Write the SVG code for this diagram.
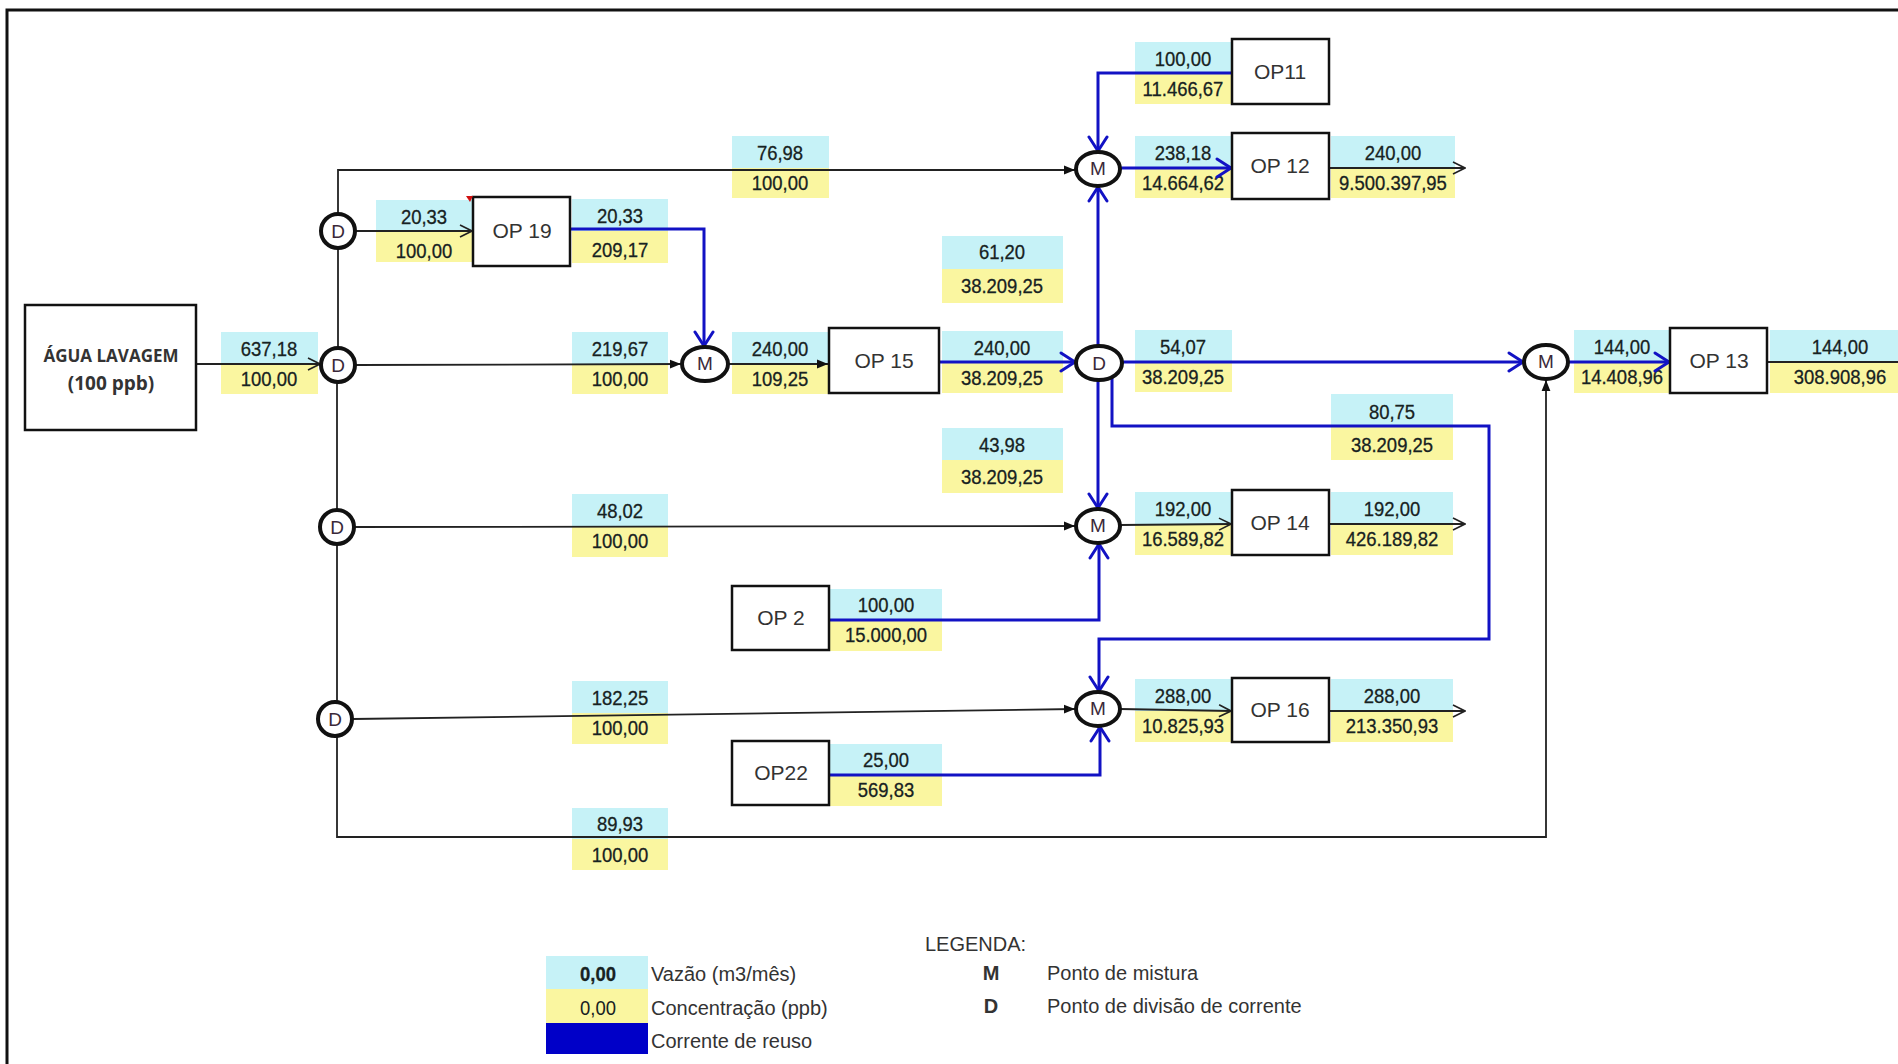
<svg xmlns="http://www.w3.org/2000/svg" width="1898" height="1064" viewBox="0 0 1898 1064">
<style>
.c{fill:#C6F2F7}
.y{fill:#FAF6A0}
.n{font-family:"Liberation Sans Narrow","Liberation Sans",sans-serif;font-size:21px;fill:#172222;stroke:#172222;stroke-width:0.3;text-anchor:middle;transform:scaleX(0.88);transform-box:fill-box;transform-origin:center}
.box{fill:#fff;stroke:#111;stroke-width:2.5}
.bt{font-family:"Liberation Sans Narrow","Liberation Sans",sans-serif;font-size:21px;fill:#333;text-anchor:middle}
.circ{fill:#fff;stroke:#111;stroke-width:4}
.ct{font-family:"Liberation Sans Narrow","Liberation Sans",sans-serif;font-size:19px;fill:#3a2838;text-anchor:middle}
.bl{fill:none;stroke:#222;stroke-width:1.8}
.blue{fill:none;stroke:#1212C4;stroke-width:3}
.lg{font-family:"Liberation Sans Narrow","Liberation Sans",sans-serif;font-size:20px;fill:#333}
</style>
<defs>
<marker id="af" viewBox="0 0 10 10" refX="10" refY="5" markerWidth="11" markerHeight="11" markerUnits="userSpaceOnUse" orient="auto"><path d="M0,1 L10,5 L0,9z" fill="#111"/></marker>
<marker id="ao" viewBox="0 0 14 14" refX="13" refY="7" markerWidth="14" markerHeight="14" markerUnits="userSpaceOnUse" orient="auto"><path d="M1,1 L13,7 L1,13" fill="none" stroke="#222" stroke-width="1.6"/></marker>
<marker id="ab" viewBox="0 0 18 22" refX="16" refY="11" markerWidth="18" markerHeight="22" markerUnits="userSpaceOnUse" orient="auto"><path d="M2,2 L16,11 L2,20" fill="none" stroke="#1212C4" stroke-width="3" stroke-linecap="round" stroke-linejoin="round"/></marker>
</defs>
<rect x="0" y="0" width="1898" height="1064" fill="#fff"/>
<rect x="7" y="10" width="1900" height="1070" fill="none" stroke="#111" stroke-width="3"/>

<g id="labels">
<g><rect class="c" x="221" y="332" width="97" height="32"/><rect class="y" x="221" y="364" width="97" height="30"/><text class="n" x="269" y="356">637,18</text><text class="n" x="269" y="386">100,00</text></g>
<g><rect class="c" x="732" y="136" width="97" height="32"/><rect class="y" x="732" y="168" width="97" height="30"/><text class="n" x="780" y="160">76,98</text><text class="n" x="780" y="190">100,00</text></g>
<g><rect class="c" x="376" y="200" width="97" height="32"/><rect class="y" x="376" y="232" width="97" height="30"/><text class="n" x="424" y="224">20,33</text><text class="n" x="424" y="258">100,00</text></g>
<g><rect class="c" x="572" y="199" width="96" height="32"/><rect class="y" x="572" y="231" width="96" height="32"/><text class="n" x="620" y="223">20,33</text><text class="n" x="620" y="257">209,17</text></g>
<g><rect class="c" x="572" y="332" width="96" height="32"/><rect class="y" x="572" y="364" width="96" height="30"/><text class="n" x="620" y="356">219,67</text><text class="n" x="620" y="386">100,00</text></g>
<g><rect class="c" x="732" y="332" width="97" height="32"/><rect class="y" x="732" y="364" width="97" height="30"/><text class="n" x="780" y="356">240,00</text><text class="n" x="780" y="386">109,25</text></g>
<g><rect class="c" x="942" y="331" width="121" height="32"/><rect class="y" x="942" y="363" width="121" height="30"/><text class="n" x="1002" y="355">240,00</text><text class="n" x="1002" y="385">38.209,25</text></g>
<g><rect class="c" x="942" y="236" width="121" height="33"/><rect class="y" x="942" y="269" width="121" height="34"/><text class="n" x="1002" y="259">61,20</text><text class="n" x="1002" y="293">38.209,25</text></g>
<g><rect class="c" x="942" y="428" width="121" height="32"/><rect class="y" x="942" y="460" width="121" height="33"/><text class="n" x="1002" y="452">43,98</text><text class="n" x="1002" y="484">38.209,25</text></g>
<g><rect class="c" x="1135" y="330" width="97" height="32"/><rect class="y" x="1135" y="362" width="97" height="30"/><text class="n" x="1183" y="354">54,07</text><text class="n" x="1183" y="384">38.209,25</text></g>
<g><rect class="c" x="1331" y="394" width="122" height="32"/><rect class="y" x="1331" y="426" width="122" height="34"/><text class="n" x="1392" y="419">80,75</text><text class="n" x="1392" y="452">38.209,25</text></g>
<g><rect class="c" x="1135" y="42" width="97" height="32"/><rect class="y" x="1135" y="74" width="97" height="30"/><text class="n" x="1183" y="66">100,00</text><text class="n" x="1183" y="96">11.466,67</text></g>
<g><rect class="c" x="1135" y="136" width="97" height="32"/><rect class="y" x="1135" y="168" width="97" height="30"/><text class="n" x="1183" y="160">238,18</text><text class="n" x="1183" y="190">14.664,62</text></g>
<g><rect class="c" x="1331" y="136" width="124" height="32"/><rect class="y" x="1331" y="168" width="124" height="30"/><text class="n" x="1393" y="160">240,00</text><text class="n" x="1393" y="190">9.500.397,95</text></g>
<g><rect class="c" x="1574" y="330" width="96" height="32"/><rect class="y" x="1574" y="362" width="96" height="31"/><text class="n" x="1622" y="354">144,00</text><text class="n" x="1622" y="384">14.408,96</text></g>
<g><rect class="c" x="1770" y="330" width="128" height="32"/><rect class="y" x="1770" y="362" width="128" height="31"/><text class="n" x="1840" y="354">144,00</text><text class="n" x="1840" y="384">308.908,96</text></g>
<g><rect class="c" x="572" y="494" width="96" height="32"/><rect class="y" x="572" y="526" width="96" height="31"/><text class="n" x="620" y="518">48,02</text><text class="n" x="620" y="548">100,00</text></g>
<g><rect class="c" x="1135" y="492" width="97" height="32"/><rect class="y" x="1135" y="524" width="97" height="31"/><text class="n" x="1183" y="516">192,00</text><text class="n" x="1183" y="546">16.589,82</text></g>
<g><rect class="c" x="1331" y="492" width="122" height="32"/><rect class="y" x="1331" y="524" width="122" height="31"/><text class="n" x="1392" y="516">192,00</text><text class="n" x="1392" y="546">426.189,82</text></g>
<g><rect class="c" x="829" y="589" width="113" height="31"/><rect class="y" x="829" y="620" width="113" height="31"/><text class="n" x="886" y="612">100,00</text><text class="n" x="886" y="642">15.000,00</text></g>
<g><rect class="c" x="572" y="681" width="96" height="32"/><rect class="y" x="572" y="713" width="96" height="31"/><text class="n" x="620" y="705">182,25</text><text class="n" x="620" y="735">100,00</text></g>
<g><rect class="c" x="1135" y="679" width="97" height="32"/><rect class="y" x="1135" y="711" width="97" height="31"/><text class="n" x="1183" y="703">288,00</text><text class="n" x="1183" y="733">10.825,93</text></g>
<g><rect class="c" x="1331" y="679" width="122" height="32"/><rect class="y" x="1331" y="711" width="122" height="31"/><text class="n" x="1392" y="703">288,00</text><text class="n" x="1392" y="733">213.350,93</text></g>
<g><rect class="c" x="829" y="744" width="113" height="31"/><rect class="y" x="829" y="775" width="113" height="31"/><text class="n" x="886" y="767">25,00</text><text class="n" x="886" y="797">569,83</text></g>
<g><rect class="c" x="572" y="808" width="96" height="31"/><rect class="y" x="572" y="839" width="96" height="31"/><text class="n" x="620" y="831">89,93</text><text class="n" x="620" y="862">100,00</text></g>
</g>

<g id="connectors">
<path class="bl" d="M196,364 H320" marker-end="url(#ao)"/>
<path class="bl" d="M338,365 V170 H1075" marker-end="url(#af)"/>
<path class="bl" d="M337,365 V837 H1546 V380" marker-end="url(#af)"/>
<path class="bl" d="M356,231 H472" marker-end="url(#ao)"/>
<path class="bl" d="M356,365 L681,364" marker-end="url(#af)"/>
<path class="bl" d="M728,364 H828" marker-end="url(#af)"/>
<path class="bl" d="M355,527 L1075,526" marker-end="url(#af)"/>
<path class="bl" d="M1120,525 L1231,524" marker-end="url(#ao)"/>
<path class="bl" d="M1329,524 H1465" marker-end="url(#ao)"/>
<path class="bl" d="M353,719 L1075,709" marker-end="url(#af)"/>
<path class="bl" d="M1120,709 L1231,711" marker-end="url(#ao)"/>
<path class="bl" d="M1329,711 H1465" marker-end="url(#ao)"/>
<path class="bl" d="M1329,168 H1465" marker-end="url(#ao)"/>
<path class="bl" d="M1767,362 H1905"/>
<path class="blue" d="M570,229 H704 V346" marker-end="url(#ab)"/>
<path class="blue" d="M939,362 H1075" marker-end="url(#ab)"/>
<path class="blue" d="M1098,346 V187" marker-end="url(#ab)"/>
<path class="blue" d="M1098,380 V508" marker-end="url(#ab)"/>
<path class="blue" d="M1122,362 H1523" marker-end="url(#ab)"/>
<path class="blue" d="M1112,378 V426 H1489 V639 H1099 V691" marker-end="url(#ab)"/>
<path class="blue" d="M1232,73 H1098 V151" marker-end="url(#ab)"/>
<path class="blue" d="M1120,168 H1231" marker-end="url(#ab)"/>
<path class="blue" d="M1568,362 H1669" marker-end="url(#ab)"/>
<path class="blue" d="M829,620 H1099 V544" marker-end="url(#ab)"/>
<path class="blue" d="M829,775 H1100 V727" marker-end="url(#ab)"/>
</g>

<g id="agua"><rect class="box" x="25" y="305" width="171" height="125"/><text x="111" y="362" font-family="'Open Sans','Liberation Sans',sans-serif" font-size="17" font-weight="bold" fill="#333" text-anchor="middle">ÁGUA LAVAGEM</text><text x="111" y="390" font-family="'Open Sans','Liberation Sans',sans-serif" font-size="19" font-weight="bold" fill="#333" text-anchor="middle">(100 ppb)</text></g>
<g id="d_top"><circle class="circ" cx="338" cy="231" r="17"/><text class="ct" x="338" y="238">D</text></g>
<g id="d_main"><circle class="circ" cx="338" cy="365" r="17"/><text class="ct" x="338" y="372">D</text></g>
<g id="d3"><circle class="circ" cx="337" cy="527" r="17"/><text class="ct" x="337" y="534">D</text></g>
<g id="d4"><circle class="circ" cx="335" cy="719" r="17"/><text class="ct" x="335" y="726">D</text></g>
<g id="op19"><rect class="box" x="473" y="197" width="97" height="69"/><text class="bt" x="522" y="238">OP 19</text><path d="M466,196 L473,196 L470,202z" fill="#d01010"/></g>
<g id="m1"><ellipse class="circ" cx="705" cy="364" rx="23" ry="17"/><text class="ct" x="705" y="370" font-size="16">M</text></g>
<g id="op15"><rect class="box" x="829" y="328" width="110" height="65"/><text class="bt" x="884" y="368">OP 15</text></g>
<g id="d5"><ellipse class="circ" cx="1099" cy="363" rx="23" ry="17"/><text class="ct" x="1099" y="370">D</text></g>
<g id="m_top"><ellipse class="circ" cx="1098" cy="169" rx="22" ry="17"/><text class="ct" x="1098" y="175" font-size="16">M</text></g>
<g id="op11"><rect class="box" x="1232" y="39" width="97" height="65"/><text class="bt" x="1280" y="79">OP11</text></g>
<g id="op12"><rect class="box" x="1232" y="133" width="97" height="66"/><text class="bt" x="1280" y="173">OP 12</text></g>
<g id="m13"><ellipse class="circ" cx="1546" cy="362" rx="22" ry="17"/><text class="ct" x="1546" y="368" font-size="16">M</text></g>
<g id="op13"><rect class="box" x="1670" y="328" width="97" height="65"/><text class="bt" x="1719" y="368">OP 13</text></g>
<g id="m14"><ellipse class="circ" cx="1098" cy="526" rx="22" ry="17"/><text class="ct" x="1098" y="532" font-size="16">M</text></g>
<g id="op14"><rect class="box" x="1232" y="490" width="97" height="65"/><text class="bt" x="1280" y="530">OP 14</text></g>
<g id="op2"><rect class="box" x="732" y="586" width="97" height="64"/><text class="bt" x="781" y="625">OP 2</text></g>
<g id="m16"><ellipse class="circ" cx="1098" cy="709" rx="22" ry="17"/><text class="ct" x="1098" y="715" font-size="16">M</text></g>
<g id="op16"><rect class="box" x="1232" y="678" width="97" height="64"/><text class="bt" x="1280" y="717">OP 16</text></g>
<g id="op22"><rect class="box" x="732" y="741" width="97" height="64"/><text class="bt" x="781" y="780">OP22</text></g>

<g id="legend">
<text class="lg" x="925" y="951">LEGENDA:</text>
<rect class="c" x="546" y="956" width="102" height="33"/>
<rect class="y" x="546" y="989" width="102" height="34"/>
<rect x="546" y="1023" width="102" height="31" fill="#0000C8"/>
<text class="n" x="598" y="981" font-weight="bold">0,00</text>
<text class="n" x="598" y="1015" style="stroke-width:0">0,00</text>
<text class="lg" x="651" y="981">Vazão (m3/mês)</text>
<text class="lg" x="651" y="1015">Concentração (ppb)</text>
<text class="lg" x="651" y="1048">Corrente de reuso</text>
<text class="lg" x="991" y="980" font-weight="bold" text-anchor="middle">M</text>
<text class="lg" x="1047" y="980">Ponto de mistura</text>
<text class="lg" x="991" y="1013" font-weight="bold" text-anchor="middle">D</text>
<text class="lg" x="1047" y="1013">Ponto de divisão de corrente</text>
</g>
</svg>
